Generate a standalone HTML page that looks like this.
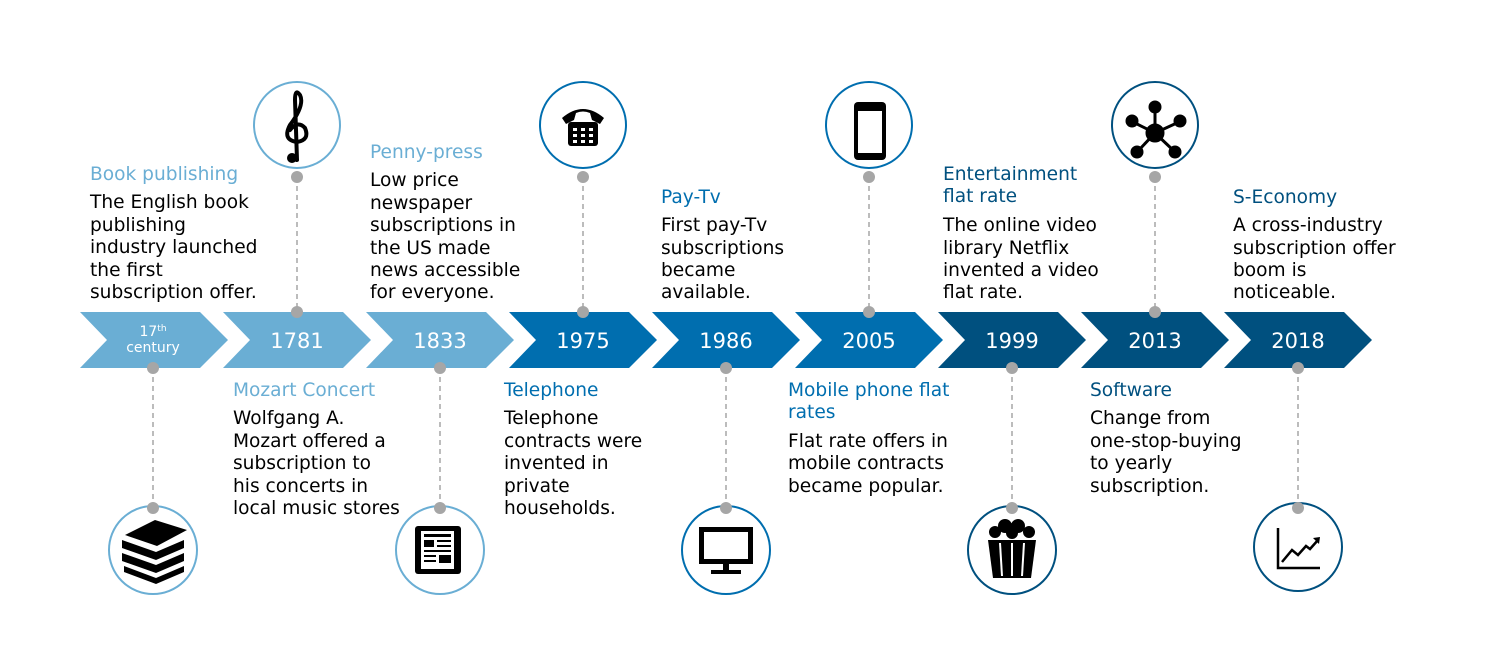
<!DOCTYPE html>
<html><head><meta charset="utf-8"><style>
html,body{margin:0;padding:0;background:#fff;}
svg text{font-family:"DejaVu Sans","Liberation Sans",sans-serif;}
</style></head><body>
<svg width="1500" height="662" viewBox="0 0 1500 662" xmlns="http://www.w3.org/2000/svg">
<defs>
<path id="chev" d="M0 312 H120 L148 340 L120 368 H0 L27 340 Z"/>
</defs>
<g>
<use href="#chev" x="80" fill="#6aaed4"/>
<use href="#chev" x="223" fill="#6aaed4"/>
<use href="#chev" x="366" fill="#6aaed4"/>
<use href="#chev" x="509" fill="#006eaf"/>
<use href="#chev" x="652" fill="#006eaf"/>
<use href="#chev" x="795" fill="#006eaf"/>
<use href="#chev" x="938" fill="#00507f"/>
<use href="#chev" x="1081" fill="#00507f"/>
<use href="#chev" x="1224" fill="#00507f"/>
</g>
<g fill="#fff" font-size="21" text-anchor="middle">
<text x="153" y="336" font-size="14">17<tspan font-size="9" dy="-5">th</tspan></text>
<text x="153" y="352" font-size="14">century</text>
<text x="297" y="348">1781</text>
<text x="440" y="348">1833</text>
<text x="583" y="348">1975</text>
<text x="726" y="348">1986</text>
<text x="869" y="348">2005</text>
<text x="1012" y="348">1999</text>
<text x="1155" y="348">2013</text>
<text x="1298" y="348">2018</text>
</g>
<g stroke="#a6a6a6" stroke-width="1.5" stroke-dasharray="5,4">
<line x1="297" y1="177" x2="297" y2="312"/><line x1="583" y1="177" x2="583" y2="312"/>
<line x1="869" y1="177" x2="869" y2="312"/><line x1="1155" y1="177" x2="1155" y2="312"/>
<line x1="153" y1="368" x2="153" y2="508"/><line x1="440" y1="368" x2="440" y2="508"/>
<line x1="726" y1="368" x2="726" y2="508"/><line x1="1012" y1="368" x2="1012" y2="508"/>
<line x1="1298" y1="368" x2="1298" y2="508"/>
</g>
<g fill="none" stroke-width="2">
<circle cx="297" cy="125" r="43" stroke="#6aaed4"/>
<circle cx="583" cy="125" r="43" stroke="#006eaf"/>
<circle cx="869" cy="125" r="43" stroke="#006eaf"/>
<circle cx="1155" cy="125" r="43" stroke="#00507f"/>
<circle cx="153" cy="550" r="44" stroke="#6aaed4"/>
<circle cx="440" cy="550" r="44" stroke="#6aaed4"/>
<circle cx="726" cy="550" r="44" stroke="#006eaf"/>
<circle cx="1012" cy="550" r="44" stroke="#00507f"/>
<circle cx="1298" cy="547" r="44" stroke="#00507f"/>
</g>
<g fill="#a6a6a6">
<circle cx="297" cy="177" r="6"/><circle cx="297" cy="312" r="6"/>
<circle cx="583" cy="177" r="6"/><circle cx="583" cy="312" r="6"/>
<circle cx="869" cy="177" r="6"/><circle cx="869" cy="312" r="6"/>
<circle cx="1155" cy="177" r="6"/><circle cx="1155" cy="312" r="6"/>
<circle cx="153" cy="368" r="6"/><circle cx="153" cy="508" r="6"/>
<circle cx="440" cy="368" r="6"/><circle cx="440" cy="508" r="6"/>
<circle cx="726" cy="368" r="6"/><circle cx="726" cy="508" r="6"/>
<circle cx="1012" cy="368" r="6"/><circle cx="1012" cy="508" r="6"/>
<circle cx="1298" cy="368" r="6"/><circle cx="1298" cy="508" r="6"/>
</g>
<g fill="none" stroke="#000" stroke-width="4" stroke-linecap="round">
<path d="M297 160 L295 100 Q295 88 300 95 Q305 105 290 125 Q282 140 297 142 Q310 140 305 128 Q298 120 290 130"/>
<circle cx="292" cy="158" r="3" fill="#000"/>
</g>
<g fill="#000">
<path d="M562 118 Q583 100 604 118 L600 124 L592 120 L590 113 Q583 110 576 113 L574 120 L566 124 Z"/>
<rect x="568" y="122" width="30" height="24" rx="3"/>
<g fill="#fff"><rect x="573" y="128" width="4" height="3"/><rect x="581" y="128" width="4" height="3"/><rect x="589" y="128" width="4" height="3"/>
<rect x="573" y="134" width="4" height="3"/><rect x="581" y="134" width="4" height="3"/><rect x="589" y="134" width="4" height="3"/>
<rect x="573" y="140" width="4" height="3"/><rect x="581" y="140" width="4" height="3"/><rect x="589" y="140" width="4" height="3"/></g>
</g>
<rect x="854" y="102" width="32" height="58" rx="4" fill="#000"/>
<rect x="858" y="111" width="24" height="42" fill="#fff"/>
<g stroke="#000" stroke-width="3" fill="#000">
<line x1="1155" y1="133" x2="1155" y2="108"/><line x1="1155" y1="133" x2="1133" y2="122"/><line x1="1155" y1="133" x2="1179" y2="122"/>
<line x1="1155" y1="133" x2="1138" y2="151"/><line x1="1155" y1="133" x2="1174" y2="151"/>
<circle cx="1155" cy="133" r="8"/><circle cx="1155" cy="107" r="5"/><circle cx="1132" cy="121" r="5"/>
<circle cx="1180" cy="121" r="5"/><circle cx="1137" cy="152" r="5"/><circle cx="1175" cy="152" r="5"/>
</g>
<g fill="#000">
<path d="M125 535 L155 520 L187 530 L157 546 Z"/><path d="M122 540 L156 552 L184 540 L184 548 L156 560 L122 548 Z"/>
<path d="M122 553 L156 565 L184 553 L184 561 L156 573 L122 561 Z"/>
<path d="M124 566 L156 578 L184 566 L184 572 L156 584 L124 572 Z"/>
</g>
<g>
<rect x="415" y="526" width="46" height="48" rx="3" fill="#000"/>
<rect x="421" y="531" width="33" height="38" fill="#fff"/>
<g fill="#000"><rect x="424" y="534" width="27" height="3"/><rect x="424" y="540" width="10" height="7"/><rect x="437" y="540" width="14" height="2"/><rect x="437" y="545" width="14" height="2"/>
<rect x="424" y="550" width="27" height="2"/><rect x="424" y="555" width="12" height="2"/><rect x="439" y="555" width="12" height="8"/><rect x="424" y="560" width="12" height="2"/></g>
</g>
<rect x="699" y="527" width="54" height="37" fill="#000"/><rect x="704" y="532" width="44" height="27" fill="#fff"/>
<rect x="723" y="564" width="6" height="6" fill="#000"/><rect x="711" y="570" width="30" height="4" fill="#000"/>
<g fill="#000">
<circle cx="995" cy="532" r="6"/><circle cx="1005" cy="526" r="7"/><circle cx="1018" cy="526" r="7"/><circle cx="1029" cy="532" r="6"/><circle cx="1012" cy="533" r="6"/>
<path d="M988 540 H1036 L1031 578 H993 Z"/>
</g>
<g stroke="#fff" stroke-width="2"><line x1="1000" y1="543" x2="1002" y2="576"/><line x1="1012" y1="543" x2="1012" y2="576"/><line x1="1024" y1="543" x2="1022" y2="576"/></g>
<g fill="none" stroke="#000" stroke-width="2.5">
<path d="M1278 528 V568 H1320"/><path d="M1282 562 L1292 550 L1298 555 L1306 546 L1310 549 L1318 540"/>
</g>
<path d="M1320 537 L1313 538 L1319 544 Z" fill="#000"/>
<g font-size="18.6" fill="#000">
<text x="90" y="180" fill="#6aaed4">Book publishing</text>
<text x="90" y="208">The English book</text><text x="90" y="231">publishing</text><text x="90" y="253">industry launched</text><text x="90" y="276">the first</text><text x="90" y="298">subscription offer.</text>

<text x="233" y="396" fill="#6aaed4">Mozart Concert</text>
<text x="233" y="424">Wolfgang A.</text><text x="233" y="447">Mozart offered a</text><text x="233" y="469">subscription to</text><text x="233" y="492">his concerts in</text><text x="233" y="514">local music stores</text>

<text x="370" y="158" fill="#6aaed4">Penny-press</text>
<text x="370" y="186">Low price</text><text x="370" y="209">newspaper</text><text x="370" y="231">subscriptions in</text><text x="370" y="254">the US made</text><text x="370" y="276">news accessible</text><text x="370" y="298">for everyone.</text>

<text x="504" y="396" fill="#006eaf">Telephone</text>
<text x="504" y="424">Telephone</text><text x="504" y="447">contracts were</text><text x="504" y="469">invented in</text><text x="504" y="492">private</text><text x="504" y="514">households.</text>

<text x="661" y="203" fill="#006eaf">Pay-Tv</text>
<text x="661" y="231">First pay-Tv</text><text x="661" y="254">subscriptions</text><text x="661" y="276">became</text><text x="661" y="298">available.</text>

<text x="788" y="396" fill="#006eaf">Mobile phone flat</text><text x="788" y="418" fill="#006eaf">rates</text>
<text x="788" y="447">Flat rate offers in</text><text x="788" y="469">mobile contracts</text><text x="788" y="492">became popular.</text>

<text x="943" y="180" fill="#00507f">Entertainment</text><text x="943" y="202" fill="#00507f">flat rate</text>
<text x="943" y="231">The online video</text><text x="943" y="254">library Netflix</text><text x="943" y="276">invented a video</text><text x="943" y="298">flat rate.</text>

<text x="1090" y="396" fill="#00507f">Software</text>
<text x="1090" y="424">Change from</text><text x="1090" y="447">one-stop-buying</text><text x="1090" y="469">to yearly</text><text x="1090" y="492">subscription.</text>

<text x="1233" y="203" fill="#00507f">S-Economy</text>
<text x="1233" y="231">A cross-industry</text><text x="1233" y="254">subscription offer</text><text x="1233" y="276">boom is</text><text x="1233" y="298">noticeable.</text>
</g>
</svg>
</body></html>
